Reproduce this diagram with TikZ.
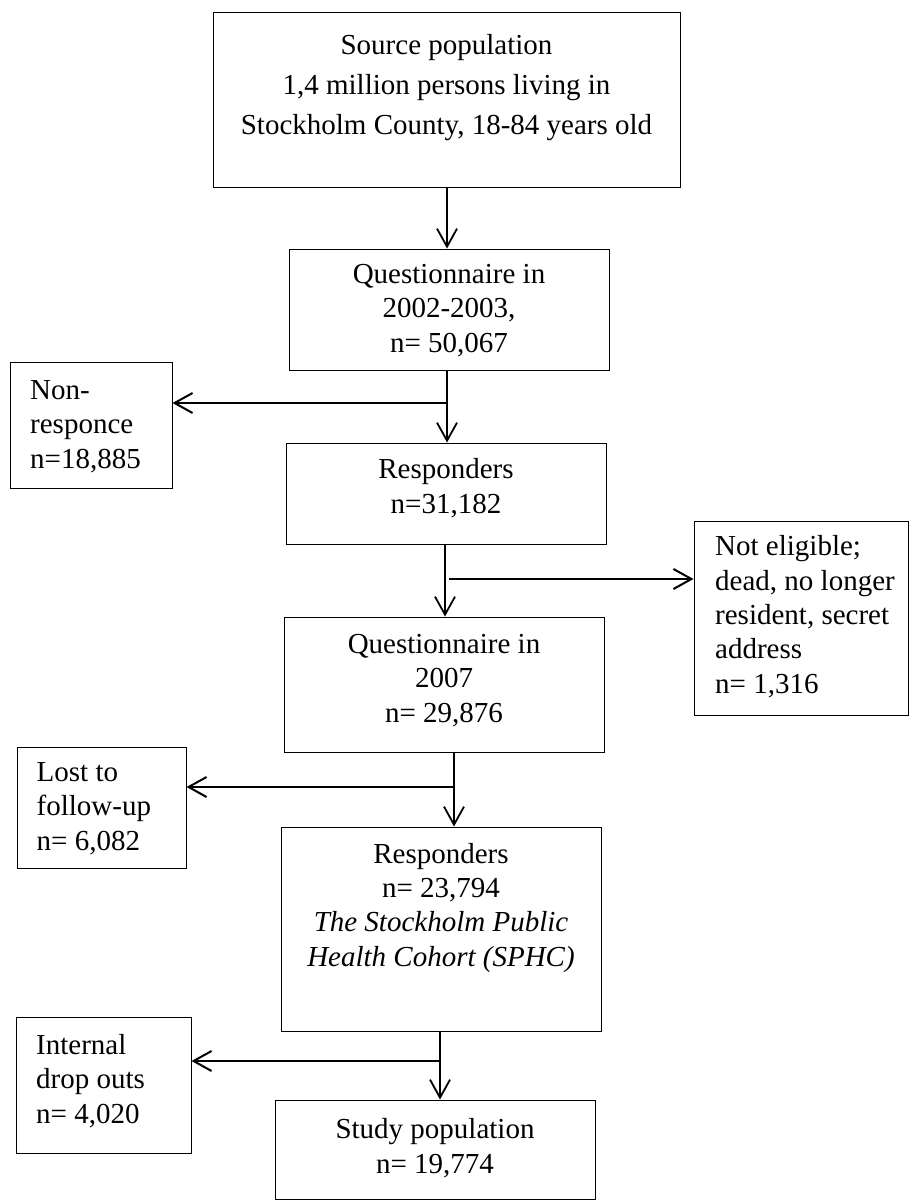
\documentclass[tikz,border=0pt]{standalone}
\usepackage{fontspec}
\setmainfont{Liberation Serif}
\usetikzlibrary{arrows.meta}
\begin{document}
\begin{tikzpicture}[x=1pt,y=-1pt,
  box/.style={draw, line width=1pt, inner sep=0pt},
  txt/.style={inner sep=0pt, font=\fontsize{29}{34.3}\selectfont, align=center, anchor=base},
  ltxt/.style={inner sep=0pt, font=\fontsize{29}{34.3}\selectfont, align=left, anchor=base west},
  arr/.style={line width=1.8pt, -{Straight Barb[length=18pt,width=20pt,line width=1.8pt]}},
  harr/.style={line width=2.1pt, -{Straight Barb[length=18pt,width=20pt,line width=2pt]}}]
\useasboundingbox (0,0) rectangle (909,1201);
% boxes
\node[box, minimum width=467pt, minimum height=175pt] (b1) at (446.5,100.5) {};
\node[box, minimum width=320pt, minimum height=121pt] (b2) at (449,309.5) {};
\node[box, minimum width=162pt, minimum height=126pt] (nr) at (91,425) {};
\node[box, minimum width=320pt, minimum height=101pt] (b3) at (446,493.5) {};
\node[box, minimum width=214pt, minimum height=194pt] (ne) at (801,618) {};
\node[box, minimum width=320pt, minimum height=135pt] (b4) at (444,684.5) {};
\node[box, minimum width=169pt, minimum height=121pt] (lf) at (101.5,807.5) {};
\node[box, minimum width=320pt, minimum height=204pt] (b5) at (441,929) {};
\node[box, minimum width=175pt, minimum height=136pt] (id) at (103.5,1085) {};
\node[box, minimum width=320pt, minimum height=99.5pt] (b6) at (435,1149.75) {};
% texts (anchored at the baseline of their last line)
\node[txt, font=\fontsize{29}{40}\selectfont] (t1) at (446.5,135) {Source population\\1,4 million persons living in\\Stockholm County, 18-84 years old};
\node[txt] (t2) at (449,352) {Questionnaire in\\2002-2003,\\n= 50,067};
\node[ltxt] (tnr) at (30,468) {Non-\\responce\\n=18,885};
\node[txt] (t3) at (446,513) {Responders\\n=31,182};
\node[ltxt] (tne) at (715,693) {Not eligible;\\dead, no longer\\resident, secret\\address\\n= 1,316};
\node[txt] (t4) at (444,722) {Questionnaire in\\2007\\n= 29,876};
\node[ltxt] (tlf) at (36.5,850) {Lost to\\follow-up\\n= 6,082};
\node[txt] (t5) at (441,966) {Responders\\n= 23,794\\\textit{The Stockholm Public}\\\textit{Health Cohort (SPHC)}};
\node[ltxt] (tid) at (36,1123) {Internal\\drop outs\\n= 4,020};
\node[txt] (t6) at (435,1173) {Study population\\n= 19,774};
% junction coordinates
\coordinate (j0) at (447,0);
\coordinate (j1) at (447,403);
\coordinate (j2) at (445,579);
\coordinate (j2s) at (449,579);
\coordinate (j3) at (454,787);
\coordinate (j4) at (440,1061);
% connectors
\draw[arr] (j0 |- b1.south) -- (j0 |- b2.north);
\draw[arr] (j1 |- b2.south) -- (j1 |- b3.north);
\draw[harr] (j1) -- (j1 -| nr.east);
\draw[arr] (j2 |- b3.south) -- (j2 |- b4.north);
\draw[harr] (j2s) -- (j2s -| ne.west);
\draw[arr] (j3 |- b4.south) -- (j3 |- b5.north);
\draw[harr] (j3) -- (j3 -| lf.east);
\draw[arr] (j4 |- b5.south) -- (j4 |- b6.north);
\draw[harr] (j4) -- (j4 -| id.east);
\end{tikzpicture}
\end{document}
